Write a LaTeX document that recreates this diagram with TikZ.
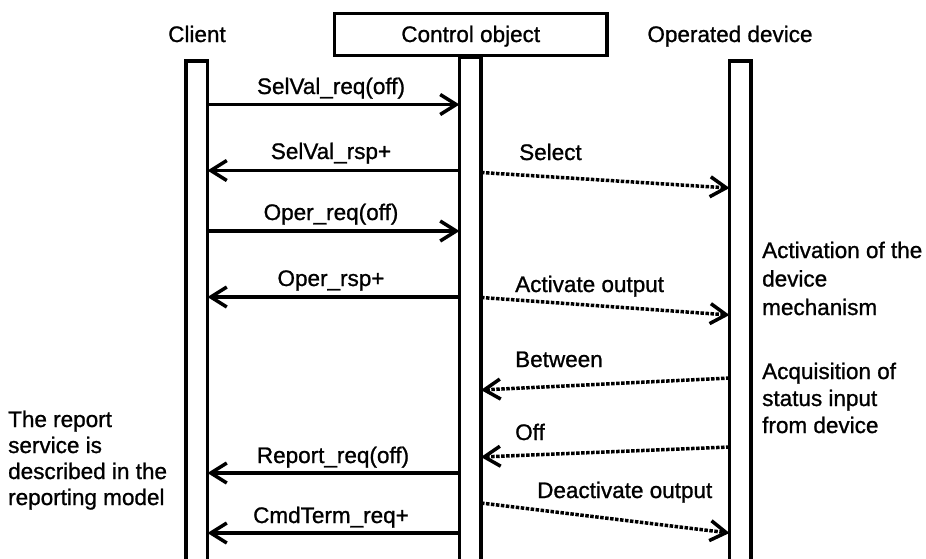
\documentclass[tikz,border=0pt]{standalone}
\usepackage{fontspec}
\setmainfont{Liberation Sans}[FakeBold=1]
\usetikzlibrary{arrows.meta}
\begin{document}
\begin{tikzpicture}[x=1pt,y=-1pt,
  every node/.style={font=\fontsize{22.5}{27}\selectfont, inner sep=0pt},
  lifeline/.style={draw, line width=3.5pt, minimum width=21.5pt, minimum height=520pt, anchor=north},
  headbox/.style={draw, line width=3.5pt, minimum width=272.5pt, minimum height=42pt},
  msg/.style={line width=3.5pt, -{Straight Barb[length=16pt,width=20pt]}},
  sig/.style={line width=3.5pt, dash pattern=on 3.5pt off 1.5pt, -{Straight Barb[length=16pt,width=20pt]}},
  lbl/.style={anchor=base},
  note/.style={anchor=base west, align=left}]
\useasboundingbox (0,0) rectangle (926,558);
% heads
\node[anchor=base] (hclient) at (197,42) {Client};
\node[headbox] (hctrl) at (470.75,34.5) {};
\node[anchor=base] (tctrl) at (470.75,42) {Control object};
\node[anchor=base] (hdev) at (730,42) {Operated device};
% lifelines
\node[lifeline] (cl) at (196.75,59) {};
\node[lifeline] (co) at (470.25,55.5) {};
\node[lifeline] (dv) at (740,59) {};
% anchor points on lifelines
\coordinate (c1) at (207.5,104.5); \coordinate (o1) at (459.5,104.5);
\coordinate (c2) at (207.5,170.5); \coordinate (o2) at (459.5,170.5);
\coordinate (c3) at (207.5,231);   \coordinate (o3) at (459.5,231);
\coordinate (c4) at (207.5,297);   \coordinate (o4) at (459.5,297);
\coordinate (c5) at (207.5,473);   \coordinate (o5) at (459.5,473);
\coordinate (c6) at (207.5,533);   \coordinate (o6) at (459.5,533);
\coordinate (r1) at (481,172.5);   \coordinate (d1) at (729.5,188);
\coordinate (r2) at (481,297.5);   \coordinate (d2) at (729.5,315);
\coordinate (d3) at (729.5,378);   \coordinate (r3) at (481,390);
\coordinate (d4) at (729.5,447);   \coordinate (r4) at (481,457);
\coordinate (r5) at (481,503);     \coordinate (d5) at (729.5,533);
% solid messages
\draw[msg] (c1) -- (o1);
\draw[msg] (o2) -- (c2);
\draw[msg] (c3) -- (o3);
\draw[msg] (o4) -- (c4);
\draw[msg] (o5) -- (c5);
\draw[msg] (o6) -- (c6);
\node[lbl] (l1) at (331,94) {SelVal\_req(off)};
\node[lbl] (l2) at (331,159) {SelVal\_rsp+};
\node[lbl] (l3) at (331,220) {Oper\_req(off)};
\node[lbl] (l4) at (331,286) {Oper\_rsp+};
\node[lbl] (l5) at (333,463) {Report\_req(off)};
\node[lbl] (l6) at (331,523) {CmdTerm\_req+};
% dotted signals
\draw[sig] (r1) -- (d1);
\draw[sig] (r2) -- (d2);
\draw[sig] (d3) -- (r3);
\draw[sig] (d4) -- (r4);
\draw[sig] (r5) -- (d5);
\node[anchor=base west] (s1) at (519,160) {Select};
\node[anchor=base west] (s2) at (515,292) {Activate output};
\node[anchor=base west] (s3) at (515,367) {Between};
\node[anchor=base west] (s4) at (515,440) {Off};
\node[anchor=base west] (s5) at (537,498) {Deactivate output};
% notes (base anchor = baseline of last line)
\node[note] (n1) at (762,315) {Activation of the\\[1.5pt]device\\[1.5pt]mechanism};
\node[note] (n2) at (762,433) {Acquisition of\\status input\\from device};
\node[note] (n3) at (8,505) {The report\\[-1pt]service is\\[-1pt]described in the\\[-1pt]reporting model};
\end{tikzpicture}
\end{document}
